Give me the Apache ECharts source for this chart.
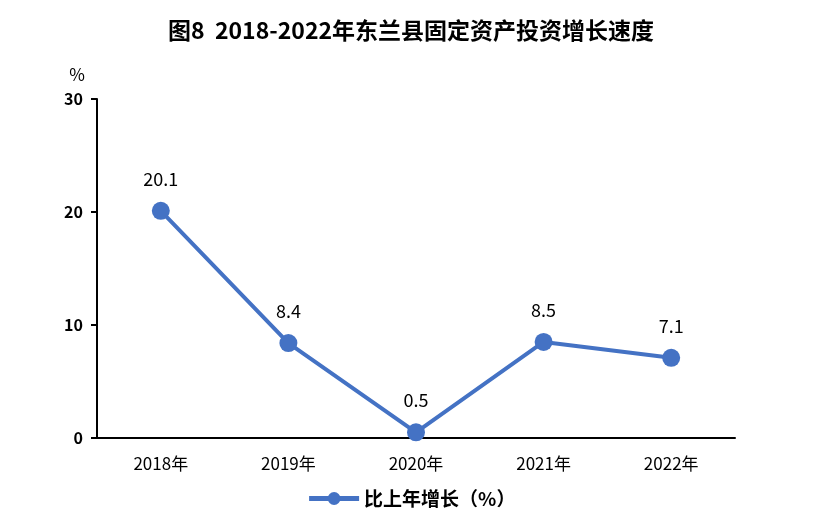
<!DOCTYPE html>
<html>
<head>
<meta charset="utf-8">
<script src="https://cdn.jsdelivr.net/npm/echarts@6/dist/echarts.min.js"></script>
<style>
  html, body { margin: 0; padding: 0; background: #fff; }
  #main { width: 822px; height: 532px; }
</style>
</head>
<body>
<div id="main"></div>
<script>
// 数据
var years = ['2018年', '2019年', '2020年', '2021年', '2022年'];
var growth = [20.1, 8.4, 0.5, 8.5, 7.1];
var seriesName = '比上年增长（%）';

var font = '"Noto Sans CJK SC", "Open Sans", sans-serif';
var chart = echarts.init(document.getElementById('main'));
var option = {
    animation: false,
    title: {
        text: '图8  2018-2022年东兰县固定资产投资增长速度',
        left: 'center',
        top: 14,
        textStyle: { fontFamily: font, fontSize: 23, fontWeight: 'bold', color: '#000' }
    },
    legend: {
        top: 484,
        left: 'center',
        data: [seriesName],
        itemWidth: 50,
        itemHeight: 16,
        itemStyle: { borderWidth: 0 },
        lineStyle: { width: 5 },
        textStyle: { fontFamily: font, fontSize: 19, fontWeight: 'bold', color: '#000' }
    },
    grid: { left: 97, right: 87, top: 99, bottom: 94 },
    xAxis: {
        type: 'category',
        data: years,
        axisLine: { lineStyle: { color: '#000', width: 2 } },
        axisTick: { inside: true, length: 6, lineStyle: { color: '#000', width: 2 } },
        axisLabel: { fontFamily: font, fontSize: 17, color: '#000', margin: 17 }
    },
    yAxis: {
        type: 'value',
        min: 0,
        max: 30,
        interval: 10,
        name: '%',
        nameLocation: 'end',
        nameGap: 16,
        nameTextStyle: { fontFamily: font, fontSize: 17, color: '#000', align: 'right', padding: [0, 12, 0, 0] },
        axisLine: { show: true, lineStyle: { color: '#000', width: 2 } },
        axisTick: { show: true, length: 6, lineStyle: { color: '#000', width: 2 } },
        axisLabel: { fontFamily: font, fontSize: 16, fontWeight: 'bold', color: '#000', margin: 14 },
        splitLine: { show: false }
    },
    series: [
        {
            name: seriesName,
            type: 'line',
            data: growth,
            symbol: 'circle',
            symbolSize: 18,
            lineStyle: { color: '#4472C4', width: 4 },
            itemStyle: { color: '#4472C4' },
            label: {
                show: true,
                position: 'top',
                distance: 14,
                fontFamily: font,
                fontSize: 18,
                color: '#000'
            }
        }
    ]
};
chart.setOption(option);
</script>
</body>
</html>
